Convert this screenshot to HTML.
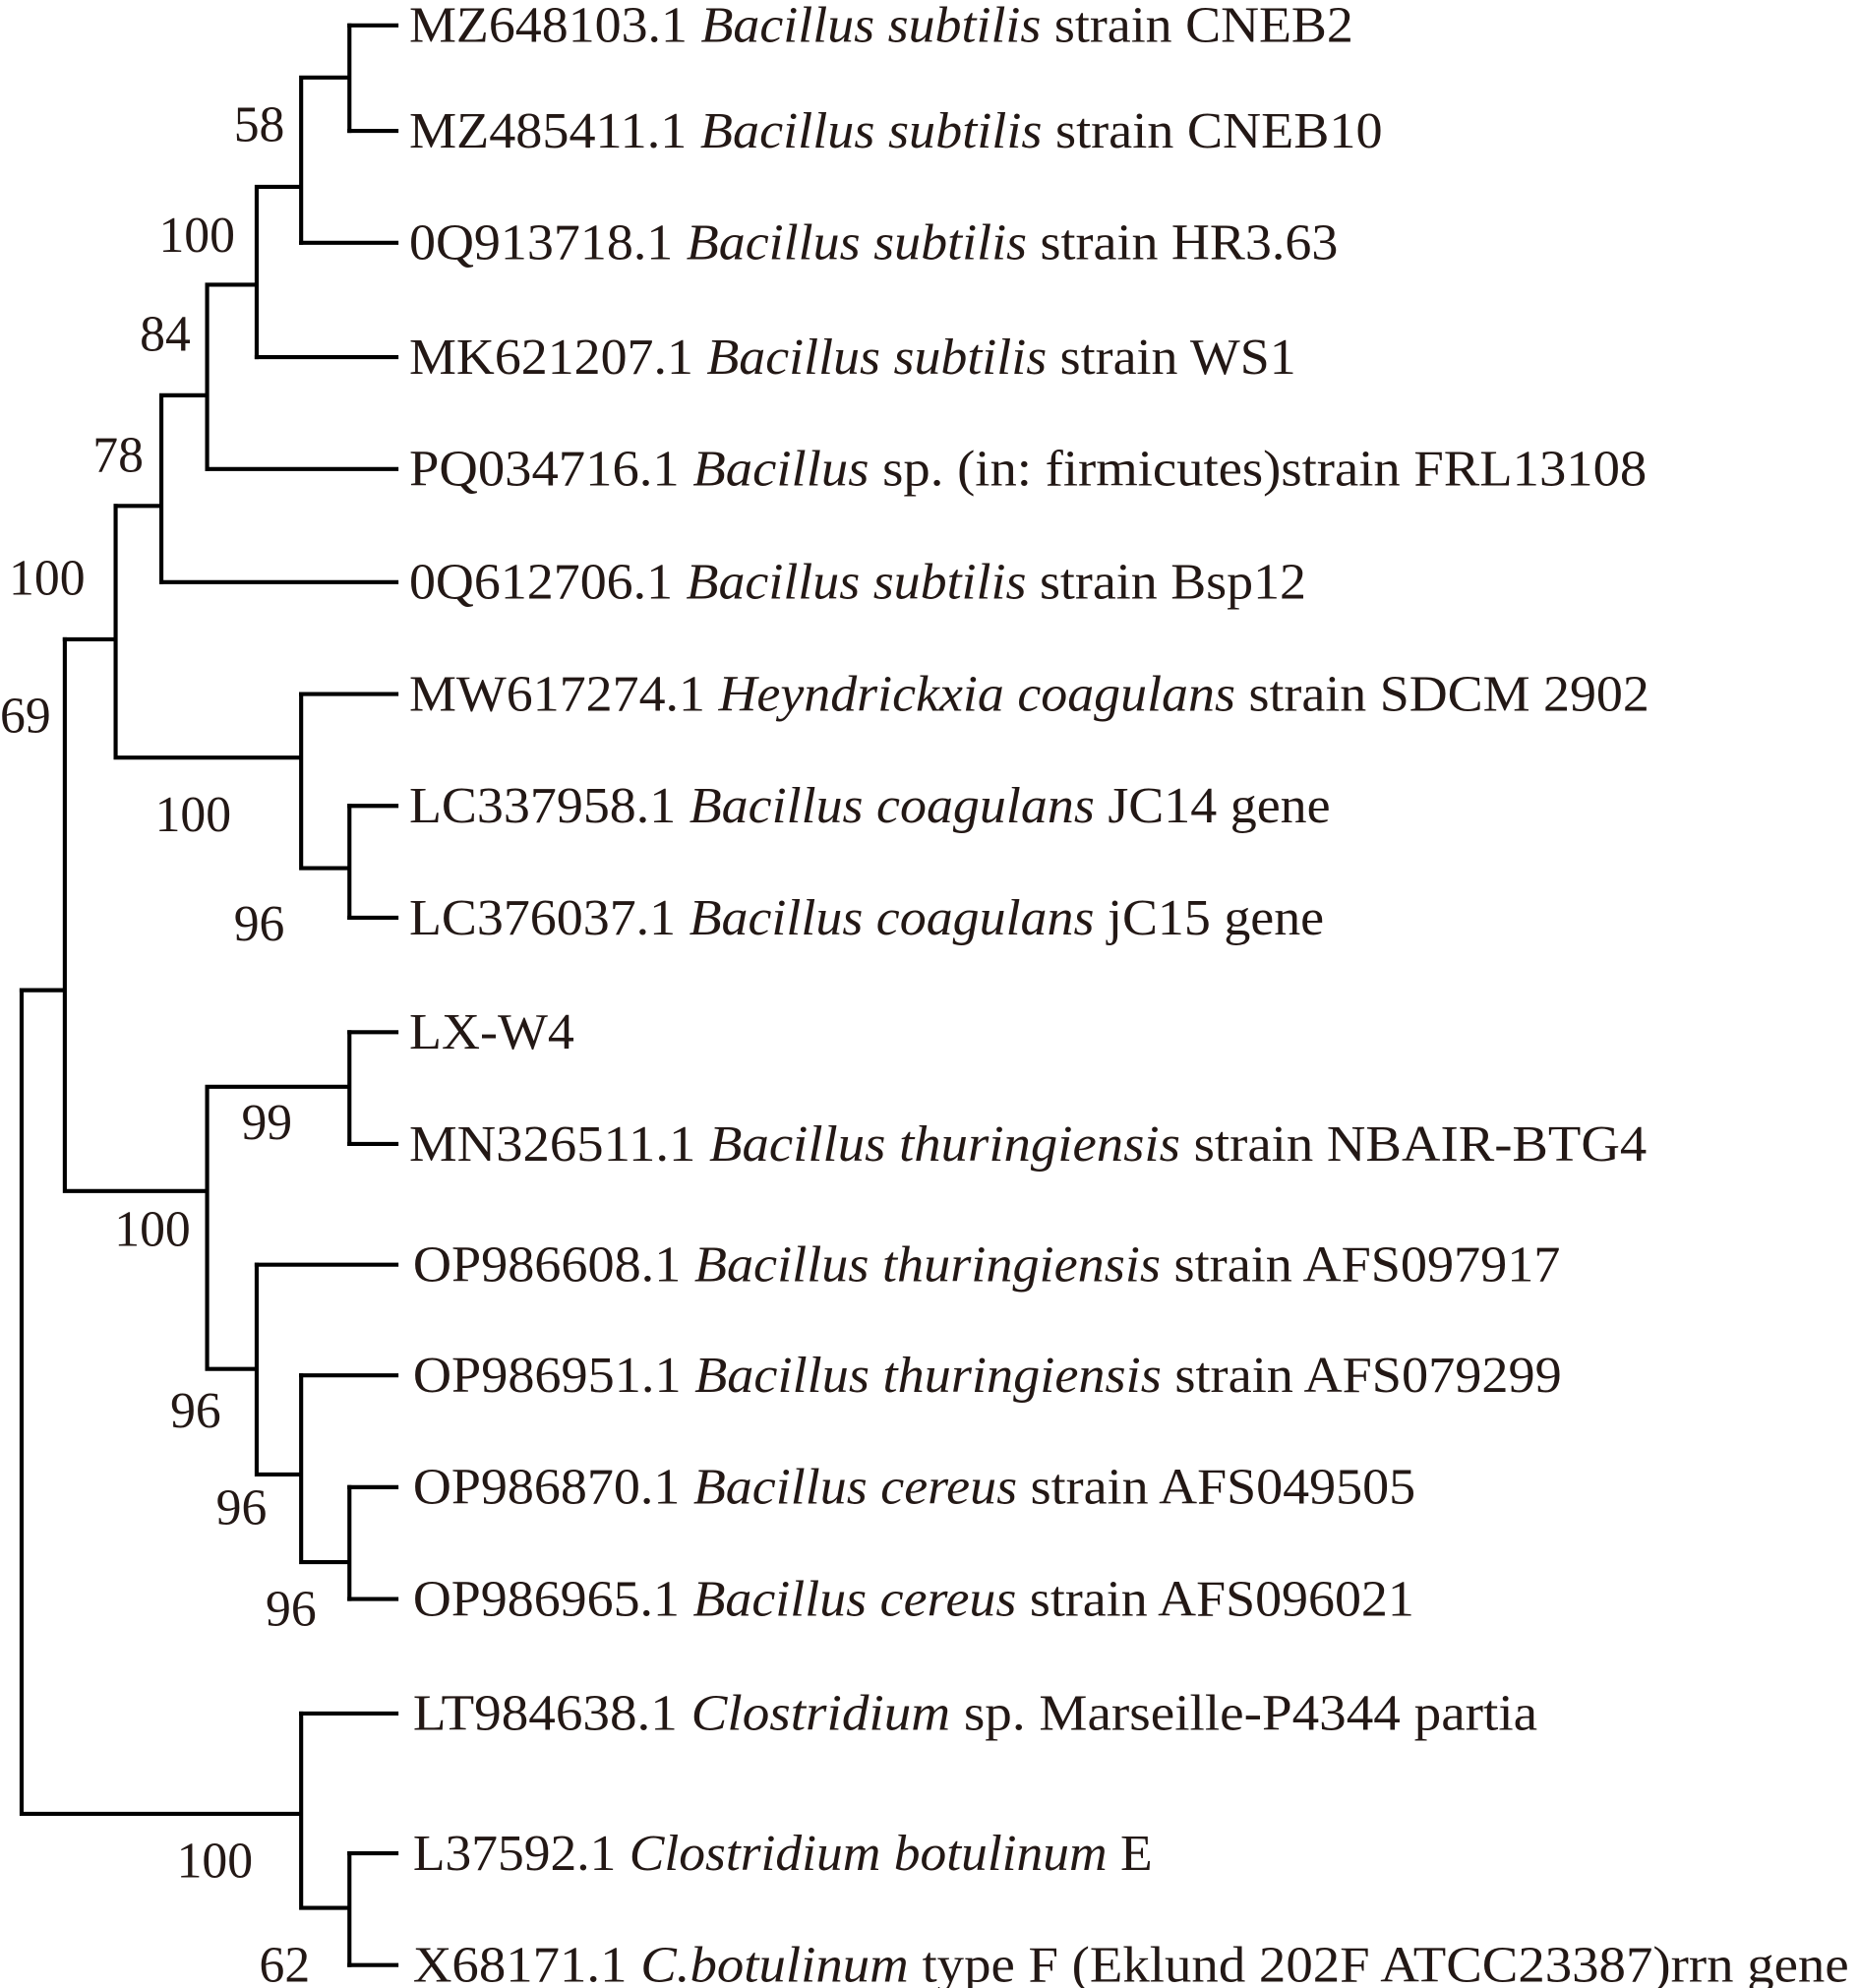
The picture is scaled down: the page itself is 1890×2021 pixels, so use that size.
<!DOCTYPE html>
<html><head><meta charset="utf-8"><style>
html,body{margin:0;padding:0;background:#fff;}
svg{display:block;}
text{font-family:"Liberation Serif",serif;fill:#231815;font-size:40px;}
.n{text-anchor:middle;}
</style></head><body>
<svg width="1890" height="2021" viewBox="0 0 1463 1564" preserveAspectRatio="none" xmlns="http://www.w3.org/2000/svg">
<g stroke="#000" stroke-width="3.2" fill="none" stroke-linecap="square">
<path d="M275 20H312M275 103H312M237 191H312M202 281H312M163 369H312M127 458H312M237 546H312M275 634H312M275 722H312M275 812H312M275 900H312M202 995H312M237 1082H312M275 1170H312M275 1258H312M237 1348H312M275 1458H312M275 1546H312"/>
<path d="M275 20V103M237 61H275M237 61V191M202 147H237M202 147V281M163 224H202M163 224V369M127 311H163M127 311V458M91 398H127"/>
<path d="M275 634V722M237 683H275M237 546V683M91 596H237M91 398V596M51 503H91"/>
<path d="M275 812V900M163 855H275M275 1170V1258M237 1229H275M237 1082V1229M202 1160H237M202 995V1160M163 1077H202M163 855V1077M51 937H163M51 503V937M17 779H51"/>
<path d="M275 1458V1546M237 1501H275M237 1348V1501M17 1427H237M17 779V1427"/>
</g>
<g>
<text x="322" y="33" textLength="743" lengthAdjust="spacingAndGlyphs">MZ648103.1 <tspan font-style="italic">Bacillus subtilis</tspan> strain CNEB2</text>
<text x="322" y="116" textLength="766" lengthAdjust="spacingAndGlyphs">MZ485411.1 <tspan font-style="italic">Bacillus subtilis</tspan> strain CNEB10</text>
<text x="322" y="204" textLength="731" lengthAdjust="spacingAndGlyphs">0Q913718.1 <tspan font-style="italic">Bacillus subtilis</tspan> strain HR3.63</text>
<text x="322" y="294" textLength="698" lengthAdjust="spacingAndGlyphs">MK621207.1 <tspan font-style="italic">Bacillus subtilis</tspan> strain WS1</text>
<text x="322" y="382" textLength="974" lengthAdjust="spacingAndGlyphs">PQ034716.1 <tspan font-style="italic">Bacillus</tspan> sp. (in: firmicutes)strain FRL13108</text>
<text x="322" y="471" textLength="706" lengthAdjust="spacingAndGlyphs">0Q612706.1 <tspan font-style="italic">Bacillus subtilis</tspan> strain Bsp12</text>
<text x="322" y="559" textLength="976" lengthAdjust="spacingAndGlyphs">MW617274.1 <tspan font-style="italic">Heyndrickxia coagulans</tspan> strain SDCM 2902</text>
<text x="322" y="647" textLength="725" lengthAdjust="spacingAndGlyphs">LC337958.1 <tspan font-style="italic">Bacillus coagulans</tspan> JC14 gene</text>
<text x="322" y="735" textLength="720" lengthAdjust="spacingAndGlyphs">LC376037.1 <tspan font-style="italic">Bacillus coagulans</tspan> jC15 gene</text>
<text x="322" y="825" textLength="130" lengthAdjust="spacingAndGlyphs">LX-W4</text>
<text x="322" y="913" textLength="974" lengthAdjust="spacingAndGlyphs">MN326511.1 <tspan font-style="italic">Bacillus thuringiensis</tspan> strain NBAIR-BTG4</text>
<text x="325" y="1008" textLength="903" lengthAdjust="spacingAndGlyphs">OP986608.1 <tspan font-style="italic">Bacillus thuringiensis</tspan> strain AFS097917</text>
<text x="325" y="1095" textLength="904" lengthAdjust="spacingAndGlyphs">OP986951.1 <tspan font-style="italic">Bacillus thuringiensis</tspan> strain AFS079299</text>
<text x="325" y="1183" textLength="789" lengthAdjust="spacingAndGlyphs">OP986870.1 <tspan font-style="italic">Bacillus cereus</tspan> strain AFS049505</text>
<text x="325" y="1271" textLength="788" lengthAdjust="spacingAndGlyphs">OP986965.1 <tspan font-style="italic">Bacillus cereus</tspan> strain AFS096021</text>
<text x="325" y="1361" textLength="885" lengthAdjust="spacingAndGlyphs">LT984638.1 <tspan font-style="italic">Clostridium</tspan> sp. Marseille-P4344 partia</text>
<text x="325" y="1471" textLength="582" lengthAdjust="spacingAndGlyphs">L37592.1 <tspan font-style="italic">Clostridium botulinum</tspan> E</text>
<text x="325" y="1559" textLength="1130" lengthAdjust="spacingAndGlyphs">X68171.1 <tspan font-style="italic">C.botulinum</tspan> type F (Eklund 202F ATCC23387)rrn gene</text>
</g>
<g>
<text class="n" x="204" y="111">58</text>
<text class="n" x="155" y="198">100</text>
<text class="n" x="130" y="276">84</text>
<text class="n" x="93" y="371">78</text>
<text class="n" x="37" y="468">100</text>
<text class="n" x="20" y="576">69</text>
<text class="n" x="152" y="654">100</text>
<text class="n" x="204" y="740">96</text>
<text class="n" x="210" y="896">99</text>
<text class="n" x="120" y="980">100</text>
<text class="n" x="154" y="1123">96</text>
<text class="n" x="190" y="1199">96</text>
<text class="n" x="229" y="1279">96</text>
<text class="n" x="169" y="1477">100</text>
<text class="n" x="224" y="1559">62</text>
</g>
</svg>
</body></html>
